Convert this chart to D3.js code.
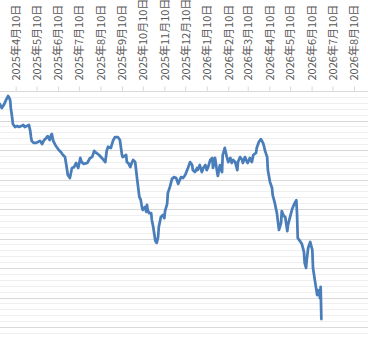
<!DOCTYPE html>
<html>
<head>
<meta charset="utf-8">
<script src="https://cdn.jsdelivr.net/npm/d3@7"></script>
<style>
  body { margin: 0; background: #fff; }
  svg { display: block; }
</style>
</head>
<body>
<div class="container"></div>
<script>
var dates = ["2025-03-18","2025-03-21","2025-03-24","2025-03-27","2025-03-30","2025-03-31","2025-04-02","2025-04-03","2025-04-05","2025-04-06",
  "2025-04-09","2025-04-12","2025-04-15","2025-04-18","2025-04-21","2025-04-23","2025-04-26","2025-04-29","2025-05-01","2025-05-02",
  "2025-05-03","2025-05-06","2025-05-09","2025-05-12","2025-05-15","2025-05-18","2025-05-21","2025-05-24","2025-05-26","2025-05-29",
  "2025-05-31","2025-06-01","2025-06-03","2025-06-06","2025-06-08","2025-06-11","2025-06-14","2025-06-17","2025-06-20","2025-06-23",
  "2025-06-24","2025-06-27","2025-06-30","2025-07-03","2025-07-06","2025-07-09","2025-07-12","2025-07-14","2025-07-17","2025-07-22",
  "2025-07-26","2025-07-29","2025-08-01","2025-08-04","2025-08-08","2025-08-12","2025-08-17","2025-08-19","2025-08-21","2025-08-25",
  "2025-08-28","2025-08-31","2025-09-04","2025-09-07","2025-09-10","2025-09-11","2025-09-16","2025-09-17","2025-09-19","2025-09-22",
  "2025-09-24","2025-09-26","2025-09-29","2025-09-30","2025-10-02","2025-10-05","2025-10-07","2025-10-09","2025-10-10","2025-10-13",
  "2025-10-15","2025-10-16","2025-10-17","2025-10-19","2025-10-22","2025-10-23","2025-10-25","2025-10-28","2025-10-30","2025-11-01",
  "2025-11-02","2025-11-05","2025-11-08","2025-11-10","2025-11-11","2025-11-14","2025-11-15","2025-11-18","2025-11-21","2025-11-24",
  "2025-11-27","2025-11-30","2025-12-01","2025-12-04","2025-12-07","2025-12-10","2025-12-14","2025-12-17","2025-12-20","2025-12-21",
  "2025-12-24","2025-12-27","2025-12-28","2025-12-31","2026-01-03","2026-01-05","2026-01-08","2026-01-10","2026-01-12","2026-01-15",
  "2026-01-18","2026-01-19","2026-01-22","2026-01-25","2026-01-26","2026-01-29","2026-02-01","2026-02-02","2026-02-05","2026-02-08",
  "2026-02-10","2026-02-13","2026-02-15","2026-02-17","2026-02-20","2026-02-23","2026-02-24","2026-02-27","2026-03-02","2026-03-03",
  "2026-03-06","2026-03-09","2026-03-10","2026-03-13","2026-03-16","2026-03-18","2026-03-22","2026-03-23","2026-03-26","2026-03-29",
  "2026-04-01","2026-04-02","2026-04-04","2026-04-07","2026-04-08","2026-04-11","2026-04-14","2026-04-15","2026-04-18","2026-04-21",
  "2026-04-24","2026-04-27","2026-04-28","2026-05-01","2026-05-03","2026-05-06","2026-05-07","2026-05-10","2026-05-13","2026-05-16",
  "2026-05-19","2026-05-20","2026-05-21","2026-05-24","2026-05-27","2026-05-30","2026-05-31","2026-06-02","2026-06-03","2026-06-05",
  "2026-06-08","2026-06-11","2026-06-12","2026-06-15","2026-06-18","2026-06-19","2026-06-21","2026-06-22","2026-06-23","2026-06-24"];

var values = [-4.4,-5.8,-4.7,-3.1,-1.7,-2.0,-3.1,-5.8,-9.2,-11.2,
  -12.2,-11.9,-12.2,-11.9,-11.5,-12.2,-11.9,-11.5,-13.6,-15.6,
  -16.9,-17.6,-17.6,-17.3,-16.9,-18.0,-16.6,-15.9,-15.3,-16.6,
  -14.9,-14.6,-16.9,-18.3,-19.0,-20.0,-20.7,-21.7,-22.4,-26.8,
  -28.5,-29.5,-26.1,-25.8,-24.4,-26.1,-22.7,-24.1,-24.7,-24.4,
  -22.7,-22.4,-20.3,-21.0,-21.7,-22.7,-24.1,-20.3,-18.9,-19.3,
  -16.9,-15.6,-15.6,-16.6,-21.7,-22.4,-21.7,-24.1,-24.4,-25.8,
  -24.4,-23.4,-24.1,-26.1,-30.2,-35.9,-36.9,-39.7,-40.3,-39.3,
  -41.0,-38.6,-40.3,-41.4,-41.4,-43.7,-46.1,-50.8,-51.5,-49.5,
  -46.1,-42.7,-42.0,-43.1,-40.7,-38.3,-34.6,-32.5,-29.8,-29.2,
  -29.5,-31.5,-30.8,-29.2,-29.5,-28.5,-26.1,-24.1,-25.1,-26.8,
  -27.5,-26.1,-26.8,-25.1,-27.5,-26.1,-25.1,-26.8,-25.8,-23.4,
  -22.7,-26.1,-22.7,-27.5,-28.8,-25.1,-27.5,-21.7,-19.3,-22.4,
  -24.1,-22.7,-24.4,-23.4,-24.1,-26.8,-24.1,-22.4,-23.4,-24.4,
  -22.4,-24.1,-24.4,-22.7,-24.1,-21.7,-21.0,-19.3,-17.3,-16.3,
  -17.6,-18.3,-20.3,-22.4,-26.8,-30.8,-32.9,-35.3,-38.0,-41.4,
  -47.1,-44.7,-40.7,-42.4,-42.7,-47.5,-45.4,-42.7,-40.0,-38.3,
  -37.0,-41.7,-49.8,-50.8,-51.9,-54.6,-58.3,-60.0,-57.3,-53.2,
  -51.2,-53.9,-60.0,-64.7,-69.2,-67.5,-67.8,-70.2,-66.4,-77.3];

var tickDates = ["2025-04-10","2025-05-10","2025-06-10","2025-07-10","2025-08-10","2025-09-10",
  "2025-10-10","2025-11-10","2025-12-10","2026-01-10","2026-02-10","2026-03-10",
  "2026-04-10","2026-05-10","2026-06-10","2026-07-10","2026-08-10"];

var majorTicks = [0,-10,-20,-30,-40,-50,-60,-70,-80];

var width = 368, height = 337;
var parse = d3.utcParse("%Y-%m-%d");

var points = dates.map(function(d, i){ return {date: parse(d), value: values[i]}; });

var x = d3.scaleUtc()
  .domain([parse("2025-04-10"), parse("2026-08-10")])
  .range([15.7, 354]);

var y = d3.scaleLinear()
  .domain([-80, 0])
  .range([327, 91]);

var svg = d3.select(".container")
  .append("svg")
  .attr("width", width)
  .attr("height", height);

// minor grid first, majors over it
var minorTicks = d3.range(0, -86, -2).filter(function(v){ return v % 10 !== 0; });
svg.append("g").selectAll("line").data(minorTicks).enter().append("line")
  .attr("x1", 0).attr("x2", width)
  .attr("y1", function(d){ return Math.round(y(d)) + 0.5; })
  .attr("y2", function(d){ return Math.round(y(d)) + 0.5; })
  .attr("stroke", "#efefef").attr("stroke-width", 1);

svg.append("g").selectAll("line").data(majorTicks).enter().append("line")
  .attr("x1", 0).attr("x2", width)
  .attr("y1", function(d){ return Math.round(y(d)) + 0.5; })
  .attr("y2", function(d){ return Math.round(y(d)) + 0.5; })
  .attr("stroke", "#d9d9d9").attr("stroke-width", 1);

// date axis along the top
var fmt = function(d){
  return d.getUTCFullYear() + "年" + (d.getUTCMonth() + 1) + "月" + d.getUTCDate() + "日";
};
var axis = d3.axisTop(x)
  .tickValues(tickDates.map(parse))
  .tickFormat(fmt)
  .tickSize(5)
  .tickSizeOuter(0);

var axisG = svg.append("g")
  .attr("transform", "translate(0," + (Math.round(y(0)) + 0.5) + ")")
  .call(axis);
axisG.select(".domain").remove();
axisG.selectAll(".tick line").attr("stroke", "#d9d9d9");
axisG.selectAll(".tick text")
  .attr("y", 0).attr("x", 11).attr("dy", "0.35em")
  .attr("transform", "rotate(-90)")
  .style("text-anchor", "start")
  .style("font-family", "'Noto Sans CJK JP', 'Noto Sans', sans-serif")
  .style("font-size", "11px")
  .attr("fill", "#595959");

var line = d3.line()
  .x(function(d){ return x(d.date); })
  .y(function(d){ return y(d.value); });

svg.append("path")
  .datum(points)
  .attr("d", line)
  .attr("fill", "none")
  .attr("stroke", "#4a7ebb")
  .attr("stroke-width", 2.75)
  .attr("stroke-linejoin", "round")
  .attr("stroke-linecap", "round");
</script>
</body>
</html>
